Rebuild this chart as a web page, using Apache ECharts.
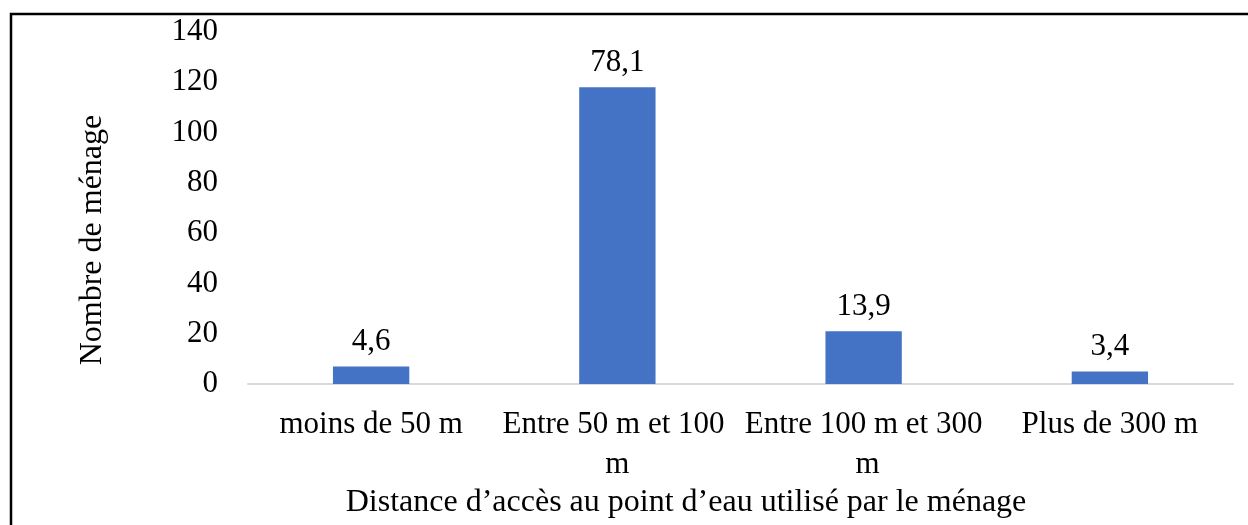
<!DOCTYPE html>
<html>
<head>
<meta charset="utf-8">
<script src="https://cdn.jsdelivr.net/npm/echarts@6/dist/echarts.min.js"></script>
<style>
  html, body { margin: 0; padding: 0; background: #fff; }
  #chart { width: 1248px; height: 525px; }
</style>
</head>
<body>
<div id="chart"></div>
<script>
// distance classes, household counts, and the percentages printed on the bars
const categories = ['moins de 50 m', 'Entre 50 m et 100 m', 'Entre 100 m et 300 m', 'Plus de 300 m']
const households = [7, 118, 21, 5]
const percents = ['4,6', '78,1', '13,9', '3,4']
const yTicks = { min: 0, max: 140, interval: 20 }

const font = '"Liberation Serif", "Times New Roman", serif'
const chart = echarts.init(document.getElementById('chart'))

const option = {
  animation: false,
  textStyle: { fontFamily: font },
  grid: { left: 248, right: 15, top: 32, bottom: 141, containLabel: false },
  xAxis: {
    type: 'category',
    data: categories,
    axisLine: { lineStyle: { color: '#d9d9d9', width: 2 } },
    axisTick: { show: false },
    axisLabel: {
      interval: 0,
      color: '#000',
      fontFamily: font,
      fontSize: 31,
      margin: 21,
      width: 240,
      overflow: 'break',
      lineHeight: 40
    }
  },
  yAxis: {
    type: 'value',
    min: yTicks.min,
    max: yTicks.max,
    interval: yTicks.interval,
    splitLine: { show: false },
    axisLine: { show: false },
    axisTick: { show: false },
    axisLabel: { color: '#000', fontFamily: font, fontSize: 31, margin: 30 }
  },
  series: [{
    type: 'bar',
    data: households,
    barWidth: '31%',
    itemStyle: { color: '#4472c4' },
    label: {
      show: true,
      position: 'top',
      distance: 9,
      color: '#000',
      fontFamily: font,
      fontSize: 31,
      formatter: p => percents[p.dataIndex]
    }
  }],
  graphic: [
    {
      type: 'polyline',
      shape: { points: [[11, 530], [11, 14], [1250, 14]] },
      style: { stroke: '#000', lineWidth: 2.5, fill: null }
    },
    {
      type: 'text',
      x: 93, y: 240,
      rotation: Math.PI / 2,
      style: {
        text: 'Nombre de ménage',
        font: '32px ' + font,
        fill: '#000',
        align: 'center',
        verticalAlign: 'middle'
      }
    },
    {
      type: 'text',
      x: 686, y: 503,
      style: {
        text: 'Distance d\u2019accès au point d\u2019eau utilisé par le ménage',
        font: '32px ' + font,
        fill: '#000',
        align: 'center',
        verticalAlign: 'middle'
      }
    }
  ]
}

chart.setOption(option)
</script>
</body>
</html>
